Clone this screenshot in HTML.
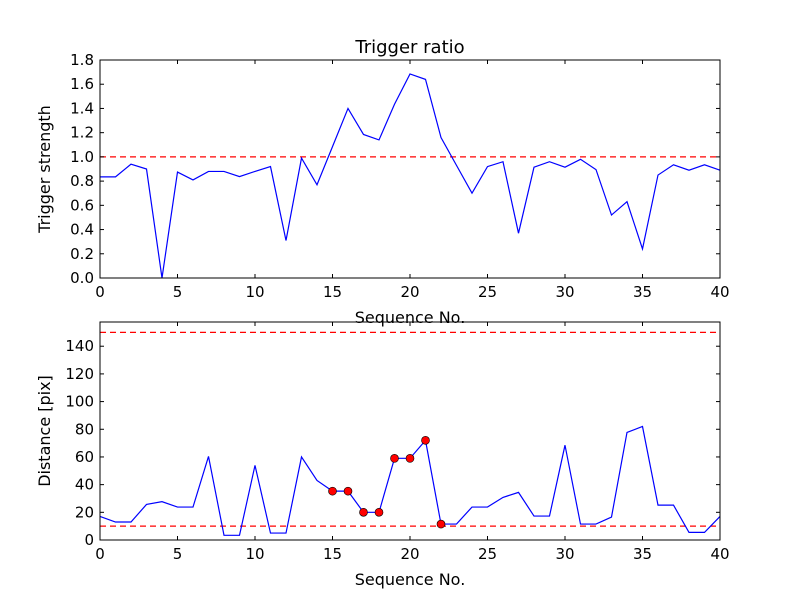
<!DOCTYPE html>
<html><head><meta charset="utf-8"><style>
body{margin:0;background:#fff}
svg{display:block;font-family:"DejaVu Sans","Liberation Sans",sans-serif}
</style></head><body>
<svg id="c" width="800" height="600" viewBox="0 0 800 600" xmlns="http://www.w3.org/2000/svg">
<rect width="800" height="600" fill="#fff"/>
</svg>
<script>
const seqNo = Array.from({length:41},(_,i)=>i);
const triggerStrength = [0.835,0.835,0.94,0.90,0.0,0.875,0.81,0.88,0.88,0.837,0.88,0.92,0.31,0.99,0.77,1.085,1.40,1.185,1.14,1.435,1.685,1.64,1.16,0.93,0.70,0.92,0.96,0.37,0.915,0.96,0.915,0.98,0.895,0.52,0.63,0.24,0.85,0.935,0.89,0.935,0.89];
const distance = [17,13,13,25.7,27.7,23.8,23.8,60.4,3.4,3.4,53.9,5,5,60,43,35.3,35.3,20,20,59,59,72,11.5,11.5,23.8,23.8,30.8,34.4,17.3,17.3,68.5,11.5,11.5,16.6,77.7,82,25.2,25.2,5.5,5.5,17];
const flagged = [15,16,17,18,19,20,21,22];
const triggerThreshold = [1.0];
const distanceThresholds = [10,150];
const xTicks = [0,5,10,15,20,25,30,35,40];
const yTicksTop = [0,0.2,0.4,0.6,0.8,1.0,1.2,1.4,1.6,1.8];
const yTicksBottom = [0,20,40,60,80,100,120,140];

const NS="http://www.w3.org/2000/svg";
const svg=document.getElementById('c');
function mk(tag,attrs,name,parent){const e=document.createElementNS(NS,tag);for(const k in attrs)e.setAttribute(k,attrs[k]);


(parent||svg).appendChild(e);return e;}
function panel(L,T,R,B,ymax,yt,yfmt,series,hlines,ylabel,title,pname,markers){
  const g=mk('g',{},pname);
  const sx=v=>L+(v-0)/40*(R-L);
  const sy=v=>B-v/ymax*(B-T);
  hlines.forEach(h=>mk('line',{x1:L,x2:R,y1:sy(h),y2:sy(h),stroke:'#f00','stroke-width':1.2,'stroke-dasharray':'6,4'},'threshold-line',g));
  const pts=series.map((v,i)=>sx(seqNo[i])+','+sy(v)).join(' ');
  mk('polyline',{points:pts,fill:'none',stroke:'#00f','stroke-width':1.2},'data-line',g);
  if(markers) markers.forEach(i=>mk('circle',{cx:sx(seqNo[i]),cy:sy(series[i]),r:4,fill:'#f00',stroke:'#000','stroke-width':0.6},'flagged-point',g));
  mk('rect',{x:L,y:T,width:R-L,height:B-T,fill:'none',stroke:'#000','stroke-width':1},'plot-frame',g);
  xTicks.forEach(t=>{const x=sx(t);
    mk('line',{x1:x,x2:x,y1:B,y2:B-4,stroke:'#000'},'x-tick',g);
    mk('line',{x1:x,x2:x,y1:T,y2:T+4,stroke:'#000'},'x-tick',g);
    const tx=mk('text',{x:x,y:B+19,'text-anchor':'middle','font-size':15},'x-tick-label',g);tx.textContent=t;});
  yt.forEach(t=>{const y=sy(t);
    mk('line',{x1:L,x2:L+4,y1:y,y2:y,stroke:'#000'},'y-tick',g);
    mk('line',{x1:R,x2:R-4,y1:y,y2:y,stroke:'#000'},'y-tick',g);
    const tx=mk('text',{x:L-6,y:y+5,'text-anchor':'end','font-size':15},'y-tick-label',g);tx.textContent=yfmt(t);});
  const xl=mk('text',{x:(L+R)/2,y:B+45,'text-anchor':'middle','font-size':16},'x-axis-title',g);xl.textContent='Sequence No.';
  const yx=L-50;const yl=mk('text',{x:yx,y:(T+B)/2,'text-anchor':'middle','font-size':16,transform:`rotate(-90 ${yx} ${(T+B)/2})`},'y-axis-title',g);yl.textContent=ylabel;
  if(title){const t=mk('text',{x:(L+R)/2,y:T-7,'text-anchor':'middle','font-size':18},'chart-title',g);t.textContent=title;}
}
panel(100,60,720,278,1.8,yTicksTop,t=>t.toFixed(1),triggerStrength,triggerThreshold,'Trigger strength','Trigger ratio','trigger-panel',null);
panel(100,322,720,540,157.5,yTicksBottom,t=>String(t),distance,distanceThresholds,'Distance [pix]','','distance-panel',flagged);
</script>
</body></html>
